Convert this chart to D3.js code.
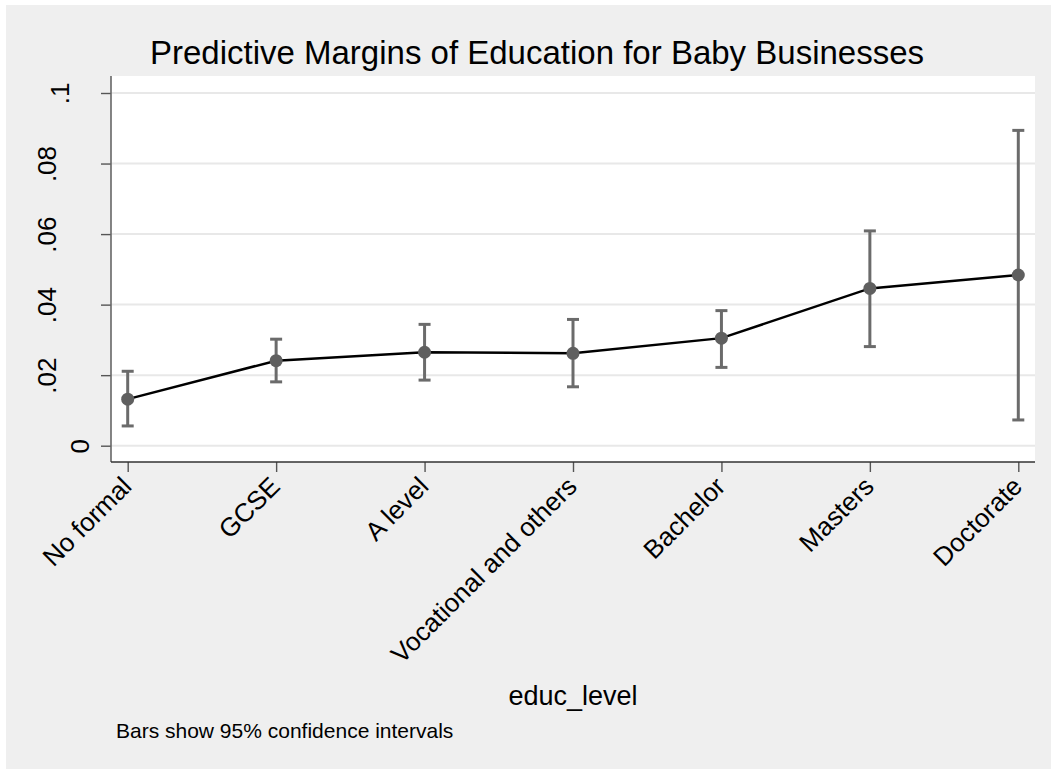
<!DOCTYPE html>
<html><head><meta charset="utf-8">
<script src="https://cdn.jsdelivr.net/npm/d3@7"></script>
<style>
body{margin:0;background:#fff;}
svg{display:block;font-family:"Liberation Sans",Arial,sans-serif;}
</style>
</head><body><svg id="c" width="1051" height="769"></svg>
<script>
const categories = ["No formal","GCSE","A level","Vocational and others","Bachelor","Masters","Doctorate"];
const margins = [0.0132,0.0241,0.0265,0.0262,0.0305,0.0446,0.0484];
const ciLower = [0.0056,0.0181,0.0186,0.0167,0.0222,0.0281,0.0073];
const ciUpper = [0.0211,0.0302,0.0344,0.0358,0.0383,0.0609,0.0894];
const yTicks = [0,0.02,0.04,0.06,0.08,0.1];
const yTickLabels = ["0",".02",".04",".06",".08",".1"];
const titleText = "Predictive Margins of Education for Baby Businesses";
const xTitle = "educ_level";
const noteText = "Bars show 95% confidence intervals";

const svg = d3.select("#c");
const P = {left:111, right:1035, top:76, bottom:462};

svg.append("rect").attr("x",6).attr("y",5).attr("width",1045).attr("height",764).attr("fill","#EFEFEF");
svg.append("rect").attr("x",P.left).attr("y",P.top).attr("width",P.right-P.left).attr("height",P.bottom-P.top).attr("fill","#fff");

const x = d3.scalePoint().domain(categories).range([127.7,1018.3]);
const y = d3.scaleLinear().domain([0,0.1]).range([445.7,93]);

// gridlines
svg.append("g").selectAll("line").data(yTicks).join("line")
  .attr("x1",P.left).attr("x2",P.right)
  .attr("y1",d=>y(d)).attr("y2",d=>y(d))
  .attr("stroke","#E8E8E8").attr("stroke-width",2);

// y axis
const ya = svg.append("g").attr("transform",`translate(${P.left},0)`)
  .call(d3.axisLeft(y).tickValues(yTicks).tickSize(10).tickSizeOuter(0).tickFormat((d,i)=>yTickLabels[i]));
ya.select(".domain").remove();
ya.append("line").attr("x1",0).attr("x2",0).attr("y1",P.top).attr("y2",P.bottom).attr("stroke","#666").attr("stroke-width",1.6);
ya.selectAll(".tick line").attr("stroke","#555").attr("stroke-width",1.4);
// baseline offset from the axis (reference shows uneven placement by label length)
const yLabOffset = s => s.length===1 ? 22.5 : (s.length===2 ? 42.5 : 55.5);
ya.selectAll(".tick text").attr("fill","#000").attr("font-size",26)
  .attr("text-anchor","middle").attr("x",0).attr("dy",0)
  .attr("transform",(d,i)=>`translate(${-yLabOffset(yTickLabels[i])},0) rotate(-90)`);

// x axis
const xa = svg.append("g").attr("transform",`translate(0,${P.bottom})`)
  .call(d3.axisBottom(x).tickSize(10).tickSizeOuter(0));
xa.select(".domain").remove();
xa.append("line").attr("x1",P.left).attr("x2",P.right).attr("y1",0).attr("y2",0).attr("stroke","#333").attr("stroke-width",1.6);
xa.selectAll(".tick line").attr("stroke","#555").attr("stroke-width",1.4);
xa.selectAll(".tick text").attr("fill","#000").attr("font-size",26)
  .attr("text-anchor","end").attr("y",0).attr("dy",0)
  .attr("transform","translate(5,26) rotate(-45)");

// error bars
const eb = svg.append("g").attr("stroke","#6B6B6B").attr("stroke-width",3).attr("fill","none");
categories.forEach((c,i)=>{
  eb.append("line").attr("x1",x(c)).attr("x2",x(c)).attr("y1",y(ciLower[i])).attr("y2",y(ciUpper[i]));
  eb.append("line").attr("x1",x(c)-6).attr("x2",x(c)+6).attr("y1",y(ciLower[i])).attr("y2",y(ciLower[i]));
  eb.append("line").attr("x1",x(c)-6).attr("x2",x(c)+6).attr("y1",y(ciUpper[i])).attr("y2",y(ciUpper[i]));
});

// line
svg.append("path").datum(categories.map((c,i)=>[x(c),y(margins[i])]))
  .attr("d",d3.line()).attr("fill","none").attr("stroke","#000").attr("stroke-width",2.5);

// markers
svg.append("g").selectAll("circle").data(categories).join("circle")
  .attr("cx",d=>x(d)).attr("cy",(d,i)=>y(margins[i])).attr("r",6.5).attr("fill","#5F5F5F");

svg.append("text").attr("x",537).attr("y",64).attr("text-anchor","middle").attr("font-size",33).text(titleText);
svg.append("text").attr("x",573).attr("y",705).attr("text-anchor","middle").attr("font-size",27).text(xTitle);
svg.append("text").attr("x",116).attr("y",738).attr("font-size",21).text(noteText);
</script>
</body></html>
